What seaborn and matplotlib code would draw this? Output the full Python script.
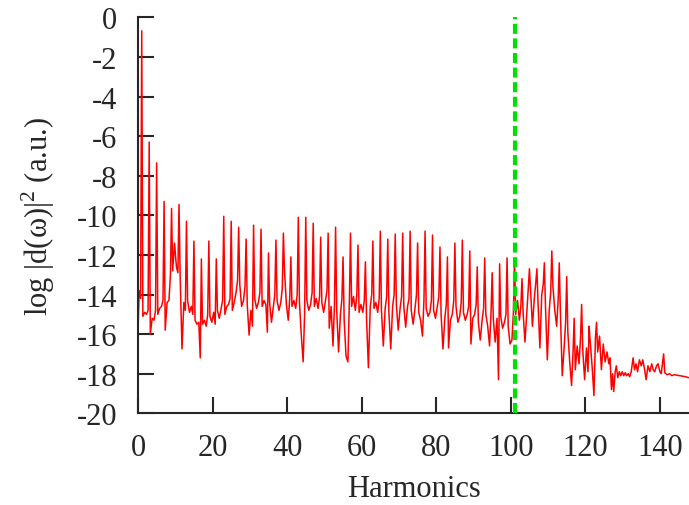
import matplotlib
matplotlib.use("Agg")
import matplotlib.pyplot as plt
import numpy as np
import pandas as pd
import seaborn as sns

# sample offsets around each odd harmonic: two points before, the peak, two after
offsets = [-0.7, -0.3, 0.0, 0.3, 0.8]

# rows: odd harmonic, then log|d|^2 at the five offsets
onset_h = [0.0]
onset_val = [-15.9]

low_orders = [
    [1, -13.8, -14.2, -0.68, -15.1, -14.9],
    [3, -15.0, -14.8, -6.3, -16.0, -15.2],
    [5, -15.3, -14.8, -7.35, -15.0, -14.7],
    [7, -14.6, -14.3, -9.3, -15.8, -14.4],
    [9, -14.3, -13.0, -9.65, -12.8, -11.4],
    [11, -12.6, -12.9, -9.45, -13.0, -16.75],
    [13, -14.4, -14.8, -10.3, -14.3, -14.9],
    [15, -14.6, -15.0, -11.3, -15.3, -15.5],
    [17, -15.4, -17.2, -12.2, -15.5, -15.3],
    [19, -15.6, -15.0, -11.3, -15.1, -15.4],
    [21, -14.9, -15.5, -12.2, -14.8, -15.2],
    [23, -14.7, -14.3, -10.05, -15.0, -14.6],
    [25, -14.5, -14.2, -10.3, -14.8, -14.4],
]

mid_orders_a = [
    [27, -13.9, -13.3, -10.6, -13.5, -14.6],
    [29, -14.3, -13.6, -11.2, -14.5, -16.05],
    [31, -14.8, -15.6, -10.5, -14.2, -14.7],
    [33, -14.4, -13.9, -10.7, -14.6, -14.3],
    [35, -14.5, -15.9, -11.9, -14.4, -15.4],
    [37, -14.6, -14.0, -11.25, -14.3, -14.8],
    [39, -14.4, -13.7, -10.9, -12.8, -14.5],
    [41, -15.3, -14.2, -12.1, -14.6, -14.3],
    [43, -14.7, -14.0, -10.1, -14.4, -16.05],
    [45, -17.4, -14.9, -10.1, -14.3, -14.8],
    [47, -14.5, -13.9, -10.4, -14.6, -14.2],
    [49, -14.7, -14.1, -11.1, -14.4, -14.9],
    [51, -14.3, -13.8, -10.9, -15.7, -14.6],
]

mid_orders_b = [
    [53, -16.6, -14.5, -10.6, -14.8, -16.9],
    [55, -15.0, -14.2, -12.1, -15.3, -17.1],
    [57, -17.4, -14.3, -10.9, -14.6, -14.1],
    [59, -14.8, -14.0, -11.5, -14.9, -14.5],
    [61, -14.9, -14.3, -12.35, -15.2, -17.7],
    [63, -14.6, -14.0, -11.3, -14.7, -14.4],
    [65, -14.9, -14.2, -10.8, -14.8, -16.6],
    [67, -14.7, -14.1, -11.2, -14.9, -16.75],
    [69, -14.6, -14.0, -10.95, -14.5, -15.8],
    [71, -14.7, -14.1, -10.9, -14.6, -15.65],
    [73, -14.6, -14.2, -10.8, -14.8, -15.5],
    [75, -14.7, -14.0, -11.4, -14.9, -15.3],
    [77, -16.1, -14.3, -10.8, -14.7, -15.1],
]

high_orders = [
    [79, -14.9, -14.3, -11.0, -14.8, -15.2],
    [81, -14.6, -14.1, -11.6, -15.0, -16.75],
    [83, -15.2, -14.5, -12.1, -16.7, -15.3],
    [85, -15.0, -14.3, -11.4, -14.6, -15.4],
    [87, -15.1, -14.4, -11.25, -14.9, -15.3],
    [89, -15.0, -14.6, -11.8, -16.5, -15.2],
    [91, -15.0, -14.5, -12.6, -15.4, -16.3],
    [93, -15.3, -14.7, -12.15, -15.0, -15.6],
    [95, -16.6, -14.9, -12.9, -15.2, -16.4],
    [97, -15.2, -18.3, -12.45, -15.1, -15.7],
    [99, -15.4, -15.0, -12.15, -15.6, -16.5],
]

cutoff_orders = [
    [101, -16.3, -14.9, -12.2, -15.0, -14.3],
    [103, -15.3, -14.6, -13.2, -14.9, -16.4],
    [105, -14.9, -13.6, -12.7, -13.8, -15.6],
    [107, -14.2, -13.4, -12.7, -14.4, -16.7],
    [109, -14.0, -13.5, -12.4, -14.6, -17.3],
    [111, -14.8, -13.9, -11.8, -13.6, -14.8],
    [113, -15.6, -14.3, -12.4, -14.9, -18.1],
    [115, -16.7, -15.4, -13.1, -15.9, -17.4],
    [117, -18.6, -16.9, -15.2, -17.8, -16.6],
    [119, -17.5, -16.2, -14.5, -16.8, -18.3],
    [121, -16.7, -17.9, -15.6, -16.4, -17.6],
    [123, -19.1, -16.2, -15.4, -16.9, -16.1],
]

tail_h = [124.3, 124.8, 125.3, 125.8, 126.3, 126.6, 127.0, 127.3, 127.6, 128.0,
          128.3, 128.7, 129.1, 129.5, 129.9, 130.3, 130.7, 131.1, 131.5, 131.9,
          132.3, 132.8, 133.2, 133.6, 134.0, 134.5, 135.0, 135.4, 135.9, 136.3,
          136.8, 137.3, 137.8, 138.2, 138.6, 139.1, 139.5, 140.0, 140.35, 141.0,
          141.3, 141.9, 142.6, 143.2, 143.8, 144.4, 145.2, 146.0, 146.8, 147.7]
tail_val = [-17.8, -16.5, -17.4, -16.9, -17.5, -17.2, -18.8, -18.0, -18.9, -17.9,
            -17.6, -18.2, -17.9, -18.1, -17.9, -18.1, -17.95, -18.1, -18.0, -18.15,
            -17.9, -17.2, -17.8, -17.5, -17.9, -17.3, -17.6, -17.3, -17.8, -18.3,
            -17.6, -17.9, -17.5, -17.8, -17.9, -17.6, -17.5, -17.9, -18.0, -17.0,
            -17.95, -18.05, -18.0, -18.1, -18.05, -18.07, -18.1, -18.12, -18.15, -18.2]

cutoff_marker = 101


def build_spectrum():
    xs, ys = list(onset_h), list(onset_val)
    for block in (low_orders, mid_orders_a, mid_orders_b, high_orders, cutoff_orders):
        for row in block:
            h, vals = row[0], row[1:]
            xs += [h + o for o in offsets]
            ys += vals
    xs += tail_h
    ys += tail_val
    return pd.DataFrame({"harmonic": xs, "log_power": ys})


def main():
    df = build_spectrum()

    sns.set_style("ticks")
    plt.rcParams["font.family"] = ["Liberation Serif", "DejaVu Serif"]
    plt.rcParams["mathtext.fontset"] = "custom"
    plt.rcParams["mathtext.rm"] = "Liberation Serif"
    plt.rcParams["axes.unicode_minus"] = False

    fig = plt.figure(figsize=(6.89, 5.06), dpi=100)
    ax = fig.add_axes([0.2003, 0.1812, 0.7997, 0.7826])

    sns.lineplot(data=df, x="harmonic", y="log_power", ax=ax, color="#ff0000",
                 linewidth=1.1, estimator=None, sort=True)
    ax.axvline(cutoff_marker, color="#00e000", linewidth=3, dashes=(2.4, 1.1), zorder=5)

    ax.set_xlim(0, 147.8)
    ax.set_ylim(-20, 0)
    ax.set_xticks(range(0, 141, 20))
    ax.set_yticks(range(-20, 1, 2))
    ax.set_xlabel("Harmonics", fontsize=22, labelpad=9)
    ax.set_ylabel(r"log |d(ω)|$^{\mathrm{2}}$ (a.u.)", fontsize=22, labelpad=14)
    ax.tick_params(direction="in", length=11.5, width=1.5, labelsize=22)
    ax.tick_params(axis="y", pad=15)
    ax.tick_params(axis="x", pad=14)
    sns.despine(ax=ax)
    for side in ("left", "bottom"):
        ax.spines[side].set_linewidth(1.5)

    fig.savefig("out.png", dpi=100)


if __name__ == "__main__":
    main()
